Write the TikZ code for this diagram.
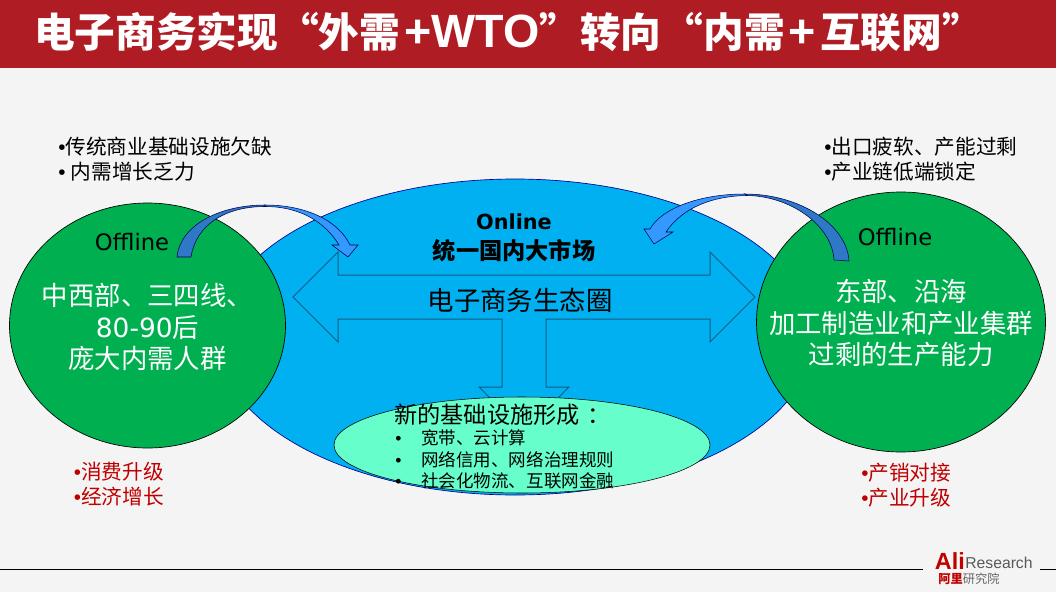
\documentclass[tikz,border=0pt]{standalone}
\usepackage{fontspec}
\setmainfont{Noto Sans CJK SC}
\newfontfamily\verdanafont{DejaVu Sans}
\newfontfamily\arialfont{Liberation Sans}
\usepackage{xcolor}
\definecolor{aligray}{HTML}{F4F4F4}
\definecolor{alired}{HTML}{B01C24}
\definecolor{aliblue}{HTML}{00B0F0}
\definecolor{aliline}{HTML}{125A80}
\definecolor{aligreen}{HTML}{00B050}
\definecolor{alimint}{HTML}{66FFCC}
\definecolor{alidark}{HTML}{2F78C8}
\definecolor{alilight}{HTML}{3399FF}
\definecolor{alitext}{HTML}{C00000}
\tikzset{
  titletxt/.style={font=\fontsize{30.5}{34}\selectfont\bfseries, text=white},
  bigtxt/.style={font=\fontsize{19.8}{23.6}\selectfont, align=center},
  bullettxt/.style={font=\fontsize{15.5}{18.6}\selectfont, align=left, anchor=west, inner sep=0pt},
  listtxt/.style={font=\fontsize{13.15}{16}\selectfont, anchor=west, inner sep=0pt},
  offtxt/.style={font=\verdanafont\fontsize{17}{20}\selectfont},
  market/.style={fill=aliblue, draw=aliline, line width=0.75pt},
  region/.style={fill=aligreen, draw=black, line width=0.5pt},
  curvearrow/.style={draw=black!70!blue, line width=0.4pt},
}
\newcommand{\dotmark}{{\arialfont •}}
\newcommand{\titlelatin}[1]{{\arialfont\fontsize{35}{34}\selectfont #1}}
\begin{document}
\begin{tikzpicture}[x=0.75pt, y=-0.75pt]
\useasboundingbox (0,0) rectangle (1056,592);
\fill[aligray] (0,0) rectangle (1056,592);
\fill[alired] (0,0) rectangle (1056,68);
\node[titletxt, anchor=west, inner sep=0pt] (title) at (34,32)
  {电子商务实现“外需\hspace{3pt}\titlelatin{+WTO}”转向\hspace{1pt}“内需\hspace{3pt}\titlelatin{+}\hspace{3pt}互联网”};
% online market
\draw[market, draw=blue!60!black, line width=0.5pt] (515,337) ellipse[x radius=298, y radius=158];
\draw[market] (293,297) -- (338,252) -- (338,275) -- (710,275) -- (710,252) -- (755,297)
  -- (710,342) -- (710,319) -- (546,319) -- (546,387) -- (569,387) -- (524,432) -- (479,387)
  -- (502,387) -- (502,319) -- (338,319) -- (338,342) -- cycle;
\draw[fill=alimint, draw=black, line width=0.4pt] (522,445) ellipse[x radius=188, y radius=48];
% offline regions
\draw[region] (147.5,325.5) ellipse[x radius=138, y radius=122.5];
\draw[region] (901,322) ellipse[x radius=144.5, y radius=130];
% left curved arrow
\filldraw[curvearrow, fill=alidark] (177,257) .. controls (180,225) and (220,205) .. (265,205)
  -- (267,206.5) .. controls (225,206) and (196,225) .. (191,257) -- cycle;
\filldraw[curvearrow, fill=alilight] (265,205) .. controls (305,205) and (338,220) .. (350,245)
  -- (358,245) -- (348,257) -- (332,245) -- (339,245) .. controls (325,222) and (300,206.5) .. (265,206.5) -- cycle;
% right curved arrow
\filldraw[curvearrow, fill=alidark] (849,261) .. controls (847,225) and (800,194) .. (745,194)
  -- (747,195.5) .. controls (790,196) and (832,225) .. (834,260) -- cycle;
\filldraw[curvearrow, fill=alilight] (745,194) .. controls (700,194) and (662,208) .. (650,229)
  -- (644,229) -- (654,244) -- (673,232) -- (666,232) .. controls (682,208) and (712,196) .. (747,195.5) -- cycle;
% labels
\node[font=\verdanafont\bfseries\fontsize{15.6}{18}\selectfont] (online) at (514,222) {Online};
\node[font=\fontsize{17.4}{20}\selectfont\bfseries] (unified) at (514,251) {统一国内大市场};
\node[bigtxt] (eco) at (520,300) {电子商务生态圈};
\node[offtxt] (offleft) at (132,242) {Offline};
\node[offtxt] (offright) at (895,237) {Offline};
\node[bigtxt, text=white] (west) at (147.5,327) {中西部、三四线、\\{\verdanafont 80-90}后\\庞大内需人群};
\node[bigtxt, text=white] (east) at (901,323) {东部、沿海\\加工制造业和产业集群\\过剩的生产能力};
\node[bullettxt] (notenw) at (58,159) {\dotmark 传统商业基础设施欠缺\\\dotmark\hspace{4pt}内需增长乏力};
\node[bullettxt] (notene) at (824,159) {\dotmark 出口疲软、产能过剩\\\dotmark 产业链低端锁定};
\node[bullettxt, text=alitext] (notesw) at (73.5,484) {\dotmark 消费升级\\\dotmark 经济增长};
\node[bullettxt, text=alitext] (notese) at (861,485) {\dotmark 产销对接\\\dotmark 产业升级};
% infrastructure list
\node[anchor=west, inner sep=0pt, font=\fontsize{17.4}{20}\selectfont] (infra) at (394,415) {新的基础设施形成\hspace{6pt}：};
\foreach \txt [count=\i] in {宽带、云计算,网络信用、网络治理规则,社会化物流、互联网金融}
  \node[listtxt] (item\i) at (395,416.5+21.5*\i) {\makebox[19.5pt][l]{\dotmark}\txt};
% footer
\draw[black, line width=0.6pt] (0,569) -- (923,569) (1040,569) -- (1056,569);
\node[anchor=west, inner sep=0pt, font=\arialfont\fontsize{11.8}{14}\selectfont, text=black!65] (logo) at (965,563) {Research};
\node[anchor=east, inner sep=0pt, font=\arialfont\bfseries\fontsize{17.5}{18}\selectfont, text=alitext] (logoali) at (965,561.5) {Ali};
\node[anchor=west, inner sep=0pt, font=\fontsize{9.2}{11}\selectfont, text=black!60] (logocn) at (938,579)
  {\textcolor{alitext}{\bfseries 阿里}研究院};
\end{tikzpicture}
\end{document}
